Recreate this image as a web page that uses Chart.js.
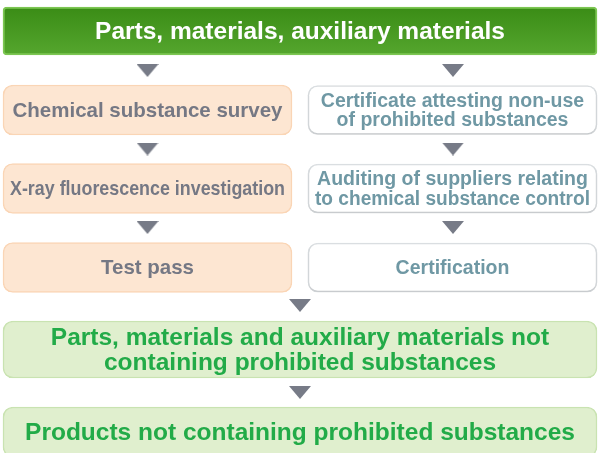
<!DOCTYPE html>
<html>
<head>
<meta charset="utf-8">
<script src="https://cdn.jsdelivr.net/npm/chart.js@4.4.1/dist/chart.umd.min.js"></script>
<style>
  html, body { margin: 0; padding: 0; background: #ffffff; }
  #flow { display: block; }
</style>
</head>
<body>
<canvas id="flow" width="600" height="453"></canvas>
<script>
// flow steps (text), one array per column / row group
const headerLabels = ['Parts, materials, auxiliary materials'];
const leftLabels = ['Chemical substance survey', 'X-ray fluorescence investigation', 'Test pass'];
const rightLabels = ['Certificate attesting non-use\nof prohibited substances', 'Auditing of suppliers relating\nto chemical substance control', 'Certification'];
const resultLabels = ['Parts, materials and auxiliary materials not\ncontaining prohibited substances', 'Products not containing prohibited substances'];

// box layout in chart units (x 0..600, y 0..453 from top)
const headerRow = [31];
const stepRows = [110, 188.5, 267.5];
const resultRows = [349.5, 432];
const fullSpan = [3, 597];
const leftSpan = [3, 292];
const rightSpan = [308, 597];

// arrow positions
const arrowRows = [70.5, 149, 227.5];
const arrowCols = [147.5, 453];
const centerArrowRows = [305.5, 392.5];
const centerCol = 300;

const FONT = '"Liberation Sans", Arial, sans-serif';

function boxes(rows, span) {
    return rows.map(r => ({ x: span, y: r }));
}

const arrowPoints = [];
arrowRows.forEach(r => arrowCols.forEach(c => arrowPoints.push({ x: c, y: r })));
centerArrowRows.forEach(r => arrowPoints.push({ x: centerCol, y: r }));

// down-pointing arrow head
const arrowImg = document.createElement('canvas');
arrowImg.width = 22;
arrowImg.height = 13;
const actx = arrowImg.getContext('2d');
actx.fillStyle = '#777b87';
actx.beginPath();
actx.moveTo(0, 0);
actx.lineTo(22, 0);
actx.lineTo(11, 13);
actx.closePath();
actx.fill();

function headerGradient(c) {
    const area = c.chart.chartArea;
    if (!area) return '#48991f';
    const top = area.top + area.height * (headerRow[0] - 24) / 453;
    const bottom = area.top + area.height * (headerRow[0] + 24) / 453;
    if (!Number.isFinite(top) || !Number.isFinite(bottom)) return '#48991f';
    const g = c.chart.ctx.createLinearGradient(0, top, 0, bottom);
    g.addColorStop(0, '#3a8c16');
    g.addColorStop(1, '#55a62e');
    return g;
}

const boxText = {
    id: 'boxText',
    afterDatasetsDraw(chart) {
        const ctx = chart.ctx;
        chart.data.datasets.forEach((ds, i) => {
            if (!ds.labels) return;
            const meta = chart.getDatasetMeta(i);
            meta.data.forEach((el, j) => {
                const p = el.getProps(['x', 'y', 'base'], true);
                const cx = (p.x + p.base) / 2;
                const lines = ds.labels[j].split('\n');
                ctx.save();
                ctx.font = ds.textFont;
                ctx.fillStyle = ds.textColor;
                ctx.textAlign = 'center';
                ctx.textBaseline = 'middle';
                const top = p.y - (lines.length - 1) * ds.lineHeight / 2;
                lines.forEach((line, k) => {
                    ctx.fillText(line, cx, top + k * ds.lineHeight + 1, Math.abs(p.x - p.base) - 14);
                });
                ctx.restore();
            });
        });
    }
};

const boxShadow = {
    id: 'boxShadow',
    beforeDatasetDraw(chart, args) {
        if (!chart.data.datasets[args.index].shadow) return;
        chart.ctx.save();
        chart.ctx.shadowColor = 'rgba(0,0,0,0.18)';
        chart.ctx.shadowBlur = 3;
        chart.ctx.shadowOffsetY = 1;
    },
    afterDatasetDraw(chart, args) {
        if (!chart.data.datasets[args.index].shadow) return;
        chart.ctx.restore();
    }
};

new Chart(document.getElementById('flow'), {
    type: 'bar',
    data: {
        datasets: [
            {
                label: 'Header',
                data: boxes(headerRow, fullSpan),
                labels: headerLabels,
                barThickness: 48,
                backgroundColor: headerGradient,
                borderColor: '#7cc652',
                borderWidth: 2,
                borderRadius: 4,
                textFont: '700 24.5px ' + FONT,
                textColor: '#ffffff',
                lineHeight: 25
            },
            {
                label: 'Analysis',
                data: boxes(stepRows, leftSpan),
                labels: leftLabels,
                barThickness: 50,
                backgroundColor: '#fde6d2',
                borderColor: '#fad5b5',
                borderWidth: 1.5,
                borderRadius: 10,
                textFont: '700 20.5px ' + FONT,
                textColor: '#757884',
                lineHeight: 19
            },
            {
                label: 'Supplier control',
                data: boxes(stepRows, rightSpan),
                labels: rightLabels,
                barThickness: 49,
                backgroundColor: '#ffffff',
                borderColor: '#dfe3e6',
                borderWidth: 1.5,
                borderRadius: 10,
                shadow: true,
                textFont: '700 19.5px ' + FONT,
                textColor: '#6f98a4',
                lineHeight: 19.5
            },
            {
                label: 'Result',
                data: boxes(resultRows.slice(0, 1), fullSpan),
                labels: resultLabels.slice(0, 1),
                barThickness: 57,
                backgroundColor: '#e0efce',
                borderColor: '#c9e3b1',
                borderWidth: 1.5,
                borderRadius: 10,
                textFont: '700 24.5px ' + FONT,
                textColor: '#22ab48',
                lineHeight: 25
            },
            {
                label: 'Product',
                data: boxes(resultRows.slice(1), fullSpan),
                labels: resultLabels.slice(1),
                barThickness: 50,
                backgroundColor: '#e0efce',
                borderColor: '#c9e3b1',
                borderWidth: 1.5,
                borderRadius: 10,
                textFont: '700 24.5px ' + FONT,
                textColor: '#22ab48',
                lineHeight: 25
            },
            {
                label: 'Arrows',
                type: 'scatter',
                data: arrowPoints,
                pointStyle: arrowImg,
                pointRadius: 11,
                pointHoverRadius: 11,
                clip: false
            }
        ]
    },
    options: {
        indexAxis: 'y',
        responsive: false,
        animation: false,
        layout: { padding: 0, autoPadding: false },
        datasets: {
            bar: { grouped: false, borderSkipped: false, clip: false }
        },
        plugins: {
            legend: { display: false },
            tooltip: { enabled: false }
        },
        scales: {
            x: { type: 'linear', min: 0, max: 600, offset: false, display: false },
            y: { type: 'linear', min: 0, max: 453, reverse: true, offset: false, display: false }
        }
    },
    plugins: [boxShadow, boxText]
});
</script>
</body>
</html>
